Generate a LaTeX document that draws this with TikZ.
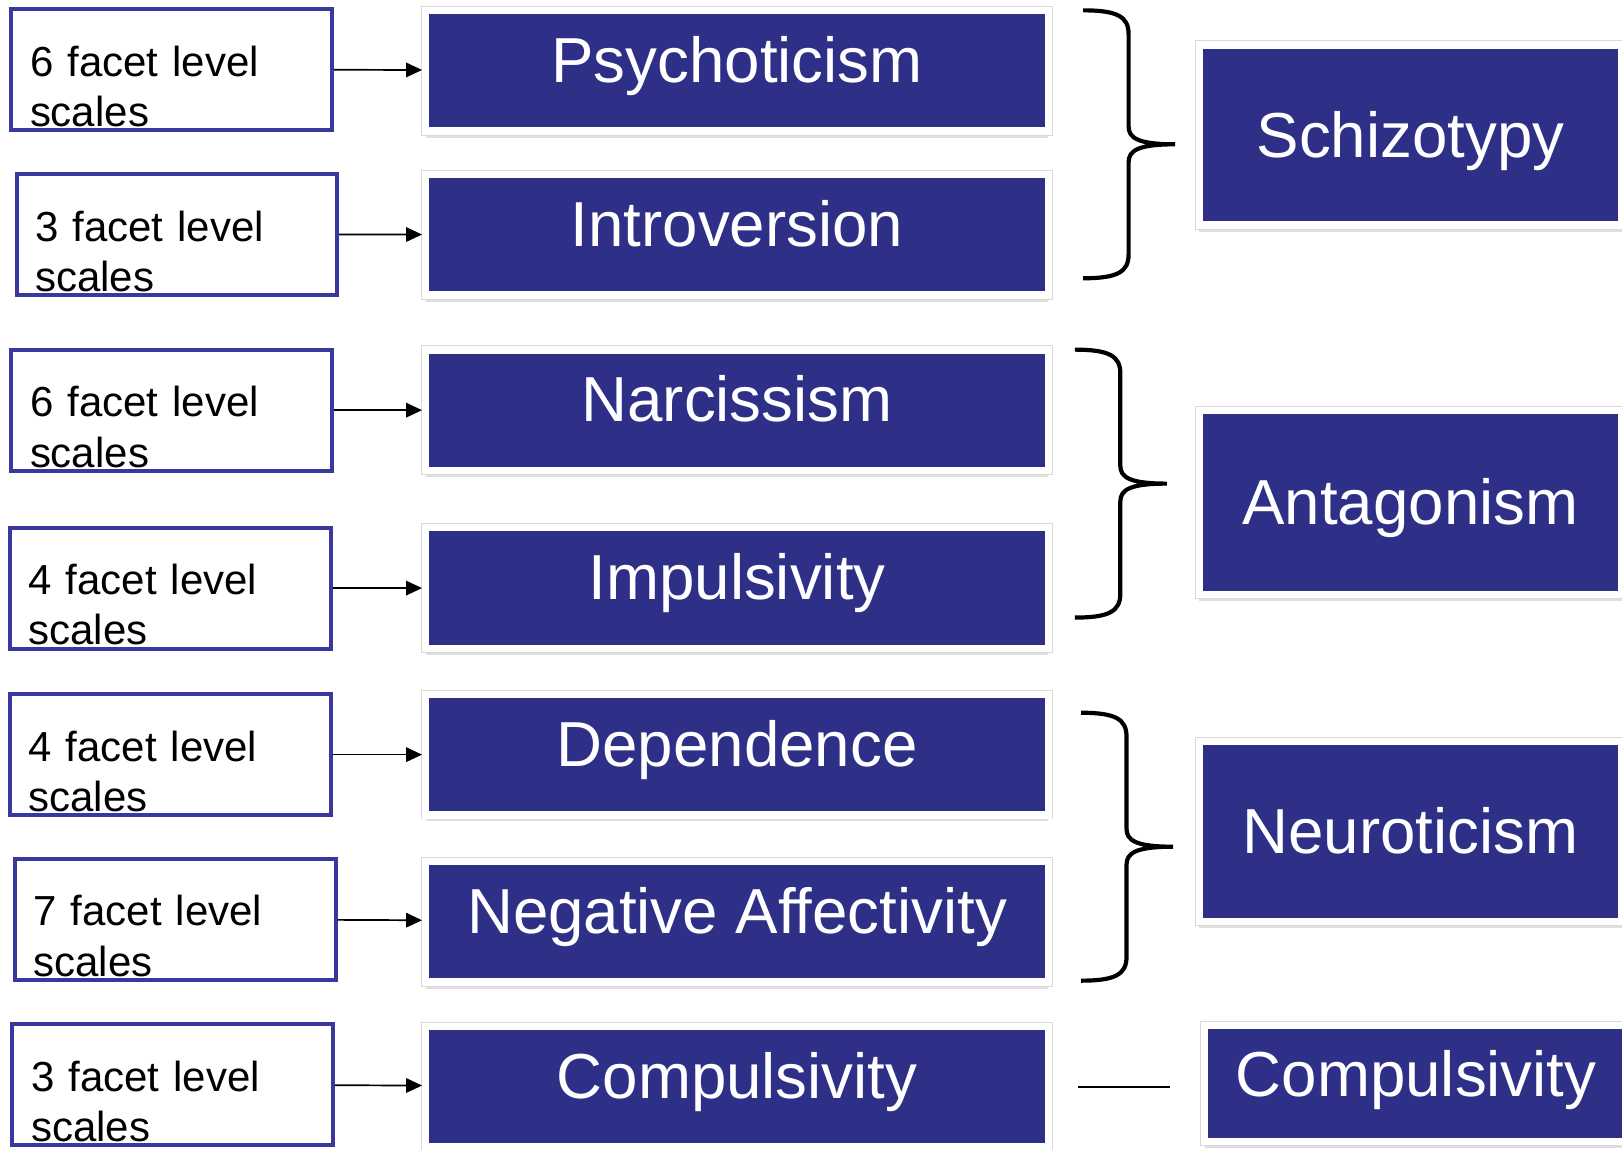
\documentclass[tikz,border=0pt]{standalone}
\usepackage{fontspec}
\setmainfont{Liberation Sans}
\definecolor{traitblue}{RGB}{46,48,136}
\definecolor{scaleblue}{RGB}{56,56,158}
\usetikzlibrary{arrows.meta,shadows}

\begin{document}
\begin{tikzpicture}[
  facet/.style={draw=scaleblue,line width=1.1pt,fill=white,minimum width=3.1cm,minimum height=1.17cm,
    text width=2.74cm,align=left,inner xsep=0.18cm,inner ysep=0pt,text height=0.65cm,text depth=0.52cm,
    font=\fontsize{11.55}{13.8}\selectfont},
  trait/.style={drop shadow={shadow xshift=0pt,shadow yshift=-1.8pt,opacity=0.25},
    preaction={draw=black!15,line width=2.5pt},
    draw=white,line width=2pt,fill=traitblue,text=white,inner sep=0pt,
    minimum width=6.02cm,minimum height=1.165cm,text height=0.695cm,text depth=0.47cm,
    font=\fontsize{17.5}{21}\selectfont},
  dombox/.style={trait,minimum width=4.08cm,text height=0.44cm,text depth=0pt},
  arr/.style={-{Triangle[length=4.4pt,width=4pt]},line width=0.47pt},
  brc/.style={line width=1.15pt},
  grpbrace/.pic={
    \draw[brc] (0,0) .. controls (0.33,0) and (0.44,-0.06) .. (0.44,-0.23) -- (0.44,-1.12)
      .. controls (0.44,-1.235) and (0.53,-1.295) .. (0.89,-1.295)
      .. controls (0.53,-1.295) and (0.44,-1.355) .. (0.44,-1.47) -- (0.44,-2.36)
      .. controls (0.44,-2.53) and (0.33,-2.59) .. (0,-2.59);
  }
]
  \useasboundingbox (0,0) rectangle (15.68,-11.11);

  % facet scales
  \node[facet] (f1) at (1.66,-0.67) {6 facet level\\scales};
  \node[facet] (f2) at (1.71,-2.265) {3 facet level\\scales};
  \node[facet] (f3) at (1.66,-3.965) {6 facet level\\scales};
  \node[facet] (f4) at (1.645,-5.685) {4 facet level\\scales};
  \node[facet] (f5) at (1.645,-7.295) {4 facet level\\scales};
  \node[facet] (f6) at (1.695,-8.885) {7 facet level\\scales};
  \node[facet] (f7) at (1.67,-10.485) {3 facet level\\scales};

  % traits
  \node[trait] (psy) at (7.125,-0.685) {Psychoticism};
  \node[trait] (intro) at (7.125,-2.27) {Introversion};
  \node[trait] (narc) at (7.125,-3.965) {Narcissism};
  \node[trait] (imp) at (7.125,-5.685) {Impulsivity};
  \node[trait] (dep) at (7.125,-7.295) {Dependence};
  \node[trait] (negaff) at (7.125,-8.91) {Negative Affectivity};
  \node[trait] (comp) at (7.125,-10.505) {Compulsivity};

  % domains
  \node[dombox,minimum height=1.74cm] (schizo) at (13.635,-1.305) {Schizotypy};
  \node[dombox,minimum height=1.78cm] (antag) at (13.635,-4.855) {Antagonism};
  \node[dombox,minimum height=1.74cm] (neuro) at (13.635,-8.035) {Neuroticism};
  \node[trait,minimum width=4.09cm,minimum height=1.12cm,text height=0.685cm,text depth=0.435cm] (compdom) at (13.69,-10.475) {Compulsivity};

  \foreach \a/\b in {f1/psy,f2/intro,f3/narc,f4/imp,f5/dep,f6/negaff,f7/comp}
    \draw[arr] (\a) -- (\b);

  \pic at (10.47,-0.10) {grpbrace};
  \pic at (10.39,-3.38) {grpbrace};
  \pic at (10.45,-6.89) {grpbrace};
  \draw[line width=0.47pt,shorten <=0.255cm,shorten >=0.295cm] (comp.east) -- (comp.east -| compdom.west);
\end{tikzpicture}
\end{document}
